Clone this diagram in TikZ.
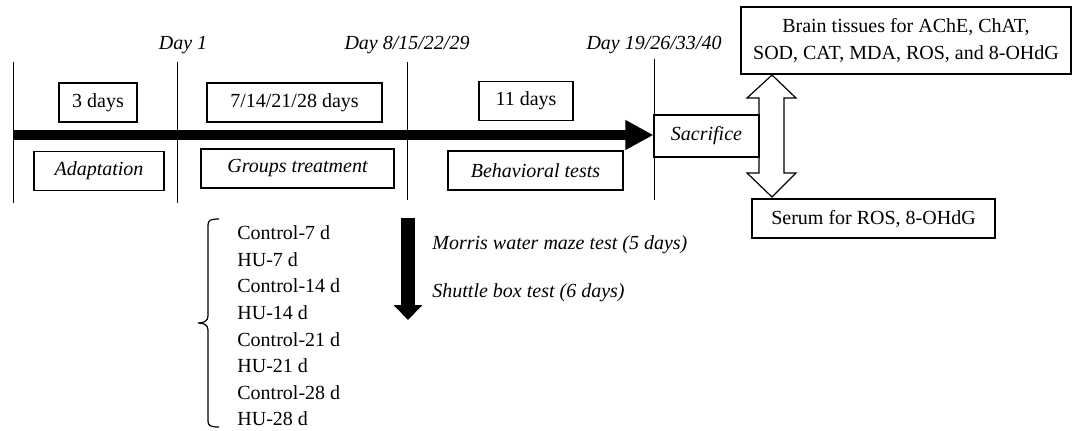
\documentclass[tikz,border=0pt]{standalone}
\usepackage{fontspec}
\setmainfont{Liberation Serif}
\usetikzlibrary{arrows.meta, positioning, calc}

\tikzset{
  box/.style={draw, line width=0.6pt, inner sep=2pt, minimum height=19.5pt},
  dayline/.style={line width=0.5pt},
  daylbl/.style={font=\itshape, inner sep=0pt},
  bigarrow/.style={line width=5pt, -{Triangle[length=14pt, width=14pt]}},
  downarrow/.style={line width=7pt, -{Triangle[length=7.5pt, width=14pt]}},
}

\begin{document}
\begin{tikzpicture}[x=0.5pt, y=-0.5pt]
\useasboundingbox (0,0) rectangle (1072,430);
% Day lines
\coordinate (t0) at (13,62);
\coordinate (t1) at (177,62);
\coordinate (t2) at (407,62);
\coordinate (t3) at (654,59);
\draw[dayline] (t0) -- ++(0,141);
\draw[dayline] (t1) -- ++(0,141);
\draw[dayline] (t2) -- ++(0,138);
\draw[dayline] (t3) -- ++(0,141);
% Day labels
\node[daylbl, above=3.8pt, xshift=3pt] at (t1) {Day 1};
\node[daylbl, above=3.8pt] at (t2) {Day 8/15/22/29};
\node[daylbl, above=2.3pt] at (t3) {Day 19/26/33/40};
% Periods
\node[box, minimum width=39pt] (days3) at (98,102.5) {3 days};
\node[box, minimum width=87.5pt] (days7) at (294.5,102.5) {7/14/21/28 days};
\node[box, minimum width=47pt] (days11) at (526,101) {11 days};
\node[box, minimum width=65pt, font=\itshape] (adapt) at (99,171) {Adaptation};
\node[box, minimum width=96.5pt, font=\itshape] (groups) at (297.5,168.5) {Groups treatment};
\node[box, minimum width=87.5pt, font=\itshape] (behav) at (535.5,170.5) {Behavioral tests};
\node[box, minimum width=52.5pt, minimum height=21pt, font=\itshape] (sacr) at (706.5,136) {Sacrifice};
% Samples
\node[box, minimum width=165pt, minimum height=33.5pt, align=center,
  font=\fontsize{10}{13.5}\selectfont] (brain) at (906,40.5)
  {Brain tissues for AChE, ChAT,\\SOD, CAT, MDA, ROS, and 8-OHdG};
\node[box, minimum width=121.5pt] (serum) at (873.5,218.5) {Serum for ROS, 8-OHdG};
% Main timeline arrow
\coordinate (start) at (13,135);
\draw[bigarrow] (start) -- (start -| sacr.west);
% Double arrow between samples
\draw[line width=0.6pt] (772,75) -- (796,98) -- (784,98) -- (784,173) -- (796,173)
  -- (772,197) -- (747,173) -- (759,173) -- (759,98) -- (747,98) -- cycle;
% Groups
\draw[line width=0.6pt] (219,219) .. controls (211,219) and (208,220) .. (208,225)
  -- (208,316) .. controls (208,321) and (204,323) .. (198,323)
  .. controls (204,323) and (208,325) .. (208,330)
  -- (208,421) .. controls (208,426) and (211,427) .. (219,427);
\node[anchor=west, align=left, inner sep=0pt, font=\fontsize{10}{13.3}\selectfont]
  (grouplist) at (237,326)
  {Control-7 d\\HU-7 d\\Control-14 d\\HU-14 d\\Control-21 d\\HU-21 d\\Control-28 d\\HU-28 d};
% Behavioral tests
\coordinate (mtop) at (408,218);
\coordinate (mbot) at (408,320);
\draw[downarrow] (mtop) -- (mbot);
\node[anchor=west, inner sep=0pt, font=\itshape] (morris) at (432,245) {Morris water maze test (5 days)};
\node[anchor=west, inner sep=0pt, font=\itshape] (shuttle) at (432,293) {Shuttle box test (6 days)};
\end{tikzpicture}
\end{document}
